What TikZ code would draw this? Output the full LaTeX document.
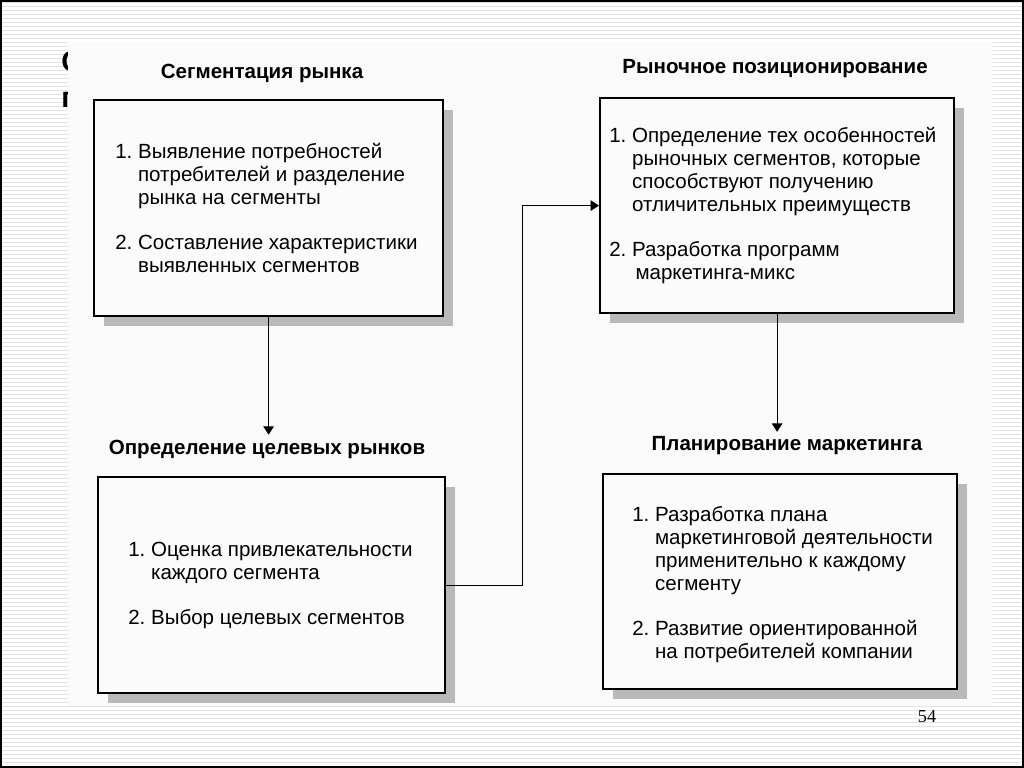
\documentclass[tikz,border=0pt]{standalone}
\usepackage{fontspec}
\setmainfont{Liberation Sans}
\newfontfamily\pagefont{Liberation Serif}
\usetikzlibrary{arrows.meta,shadows}

\newcommand{\itemind}{\hphantom{1.~}}

\begin{document}
\begin{tikzpicture}[x=0.025cm,y=-0.025cm,
  stripe/.style={gray!22, line width=0.5pt},
  box/.style={draw, line width=1.5pt, fill=gray!3, anchor=north west, inner sep=0,
    drop shadow={shadow xshift=0.25cm, shadow yshift=-0.25cm, fill=gray!55, opacity=1}},
  ttl/.style={font=\bfseries\fontsize{14.6}{16}\selectfont},
  txt/.style={anchor=north west, align=left, inner sep=0, font=\fontsize{14.6}{16.4}\selectfont},
  arr/.style={line width=0.7pt, -{Triangle[length=6pt,width=7.5pt]}}]
\useasboundingbox (0,0) rectangle (1024,768);

% slide background
\fill[white] (0,0) rectangle (1024,768);
\foreach \yy in {2,6,...,766}
  \draw[stripe] (0,\yy) -- (1024,\yy);
\node[anchor=base west, inner sep=0, font=\bfseries\fontsize{20.5}{24}\selectfont] (fraga) at (61,72) {С};
\node[anchor=base west, inner sep=0, font=\bfseries\fontsize{20.5}{24}\selectfont] (fragb) at (61,108) {п};
\fill[gray!4] (68,42) rectangle (993,706);
\draw[line width=1.2pt] (1,1) rectangle (1023,767);

% boxes
\node[box, minimum width=8.725cm, minimum height=5.4cm] (seg) at (93,99) {};
\node[box, minimum width=8.85cm, minimum height=5.375cm] (pos) at (599,97) {};
\node[box, minimum width=8.675cm, minimum height=5.4cm] (target) at (97,476) {};
\node[box, minimum width=8.85cm, minimum height=5.375cm] (plan) at (602,473) {};

% titles
\node[ttl] (tseg) at (262,73) {Сегментация рынка};
\node[ttl] (tpos) at (775,69) {Рыночное позиционирование};
\node[ttl] (ttarget) at (267,449) {Определение целевых рынков};
\node[ttl] (tplan) at (787,446) {Планирование маркетинга};

% box texts
\node[txt] (xseg) at (115,143) {1.~Выявление потребностей\\
  \itemind потребителей и разделение\\
  \itemind рынка на сегменты\\[0.55cm]
  2.~Составление характеристики\\
  \itemind выявленных сегментов};
\node[txt] (xpos) at (609,127) {1.~Определение тех особенностей\\
  \itemind рыночных сегментов, которые\\
  \itemind способствуют получению\\
  \itemind отличительных преимуществ\\[0.55cm]
  2.~Разработка программ\\
  \itemind\,маркетинга-микс};
\node[txt] (xtarget) at (128,542) {1.~Оценка привлекательности\\
  \itemind каждого сегмента\\[0.55cm]
  2.~Выбор целевых сегментов};
\node[txt] (xplan) at (632,506) {1.~Разработка плана\\
  \itemind маркетинговой деятельности\\
  \itemind применительно к каждому\\
  \itemind сегменту\\[0.55cm]
  2.~Развитие ориентированной\\
  \itemind на потребителей компании};

% arrows
\draw[arr] (seg.south) -- (seg.south |- ttarget.north);
\draw[arr] (target.east) -- ++(76,0) |- (pos.west);
\draw[arr] (pos.south) -- (pos.south |- tplan.north);

\node[font=\pagefont\fontsize{13}{15}\selectfont] (pnum) at (927,717) {54};
\end{tikzpicture}
\end{document}
